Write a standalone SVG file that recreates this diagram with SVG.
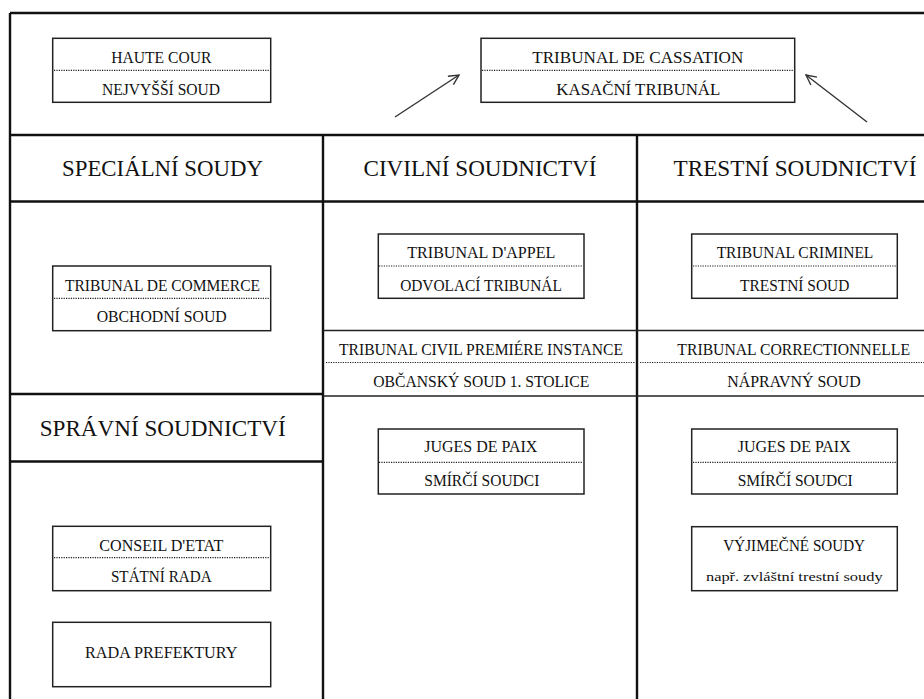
<svg xmlns="http://www.w3.org/2000/svg" width="924" height="699" viewBox="0 0 924 699">
<style>
text{fill:#111;text-anchor:middle}
.s{font-size:16px}
.xs{font-size:13px}
.h{font-size:23px}
.box{fill:#fff;stroke:#222;stroke-width:1.5}
.dot{stroke:#222;stroke-width:1.2;stroke-dasharray:1.2 1.2;fill:none}
.thick{stroke:#111;stroke-width:2.4;fill:none}
.thin{stroke:#222;stroke-width:1.4;fill:none}
.arr{stroke:#333;stroke-width:1.4;fill:none}
</style>
<defs>
<marker id="ah" viewBox="0 0 12 12" refX="11" refY="6" markerWidth="12" markerHeight="12" markerUnits="userSpaceOnUse" orient="auto">
<path d="M1,1 L11,6 L1,11" fill="none" stroke="#333" stroke-width="1.4"/>
</marker>
</defs>
<rect width="924" height="699" fill="#fff"/>
<g id="grid">
<line class="thick" x1="10" y1="13" x2="924" y2="13"/>
<line class="thick" x1="10" y1="13" x2="10" y2="699"/>
<line class="thick" x1="10" y1="135" x2="924" y2="135"/>
<line class="thick" x1="10" y1="201.5" x2="924" y2="201.5"/>
<line class="thick" x1="323" y1="135" x2="323" y2="699"/>
<line class="thick" x1="637" y1="135" x2="637" y2="699"/>
<line class="thick" x1="10" y1="394" x2="323" y2="394"/>
<line class="thick" x1="10" y1="461.5" x2="323" y2="461.5"/>
<line class="thin" x1="323" y1="330.5" x2="924" y2="330.5"/>
<line class="thin" x1="323" y1="396" x2="924" y2="396"/>
<line class="dot" x1="326" y1="362.5" x2="635" y2="362.5"/>
<line class="dot" x1="640" y1="362.5" x2="924" y2="362.5"/>
</g>
<g font-family="'Liberation Serif', 'DejaVu Serif', serif">
<g id="hdr-special"><text class="h" x="162.5" y="176" textLength="201" lengthAdjust="spacingAndGlyphs">SPECIÁLNÍ SOUDY</text></g>
<g id="hdr-civil"><text class="h" x="480" y="176" textLength="233" lengthAdjust="spacingAndGlyphs">CIVILNÍ SOUDNICTVÍ</text></g>
<g id="hdr-trestni"><text class="h" x="795" y="176" textLength="243" lengthAdjust="spacingAndGlyphs">TRESTNÍ SOUDNICTVÍ</text></g>
<g id="hdr-spravni"><text class="h" x="162.7" y="436" textLength="246" lengthAdjust="spacingAndGlyphs">SPRÁVNÍ SOUDNICTVÍ</text></g>
<g id="haute-cour">
<rect class="box" x="52.7" y="38.3" width="218" height="64"/>
<line class="dot" x1="54" y1="70.3" x2="270" y2="70.3"/>
<text class="s" x="161.3" y="63" textLength="100" lengthAdjust="spacingAndGlyphs">HAUTE COUR</text>
<text class="s" x="161" y="95" textLength="118" lengthAdjust="spacingAndGlyphs">NEJVYŠŠÍ SOUD</text>
</g>
<g id="cassation">
<rect class="box" x="481" y="38.3" width="313.7" height="64"/>
<line class="dot" x1="482" y1="70.3" x2="793" y2="70.3"/>
<text class="s" x="637.8" y="63" textLength="211" lengthAdjust="spacingAndGlyphs">TRIBUNAL DE CASSATION</text>
<text class="s" x="638.3" y="95" textLength="164" lengthAdjust="spacingAndGlyphs">KASAČNÍ TRIBUNÁL</text>
</g>
<g id="commerce">
<rect class="box" x="52.7" y="266" width="218" height="64.7"/>
<line class="dot" x1="54" y1="298.3" x2="270" y2="298.3"/>
<text class="s" x="162.5" y="291" textLength="195" lengthAdjust="spacingAndGlyphs">TRIBUNAL DE COMMERCE</text>
<text class="s" x="161.7" y="322" textLength="130" lengthAdjust="spacingAndGlyphs">OBCHODNÍ SOUD</text>
</g>
<g id="appel">
<rect class="box" x="378.3" y="234" width="205.7" height="64.3"/>
<line class="dot" x1="379" y1="266" x2="583" y2="266"/>
<text class="s" x="481.3" y="258" textLength="148" lengthAdjust="spacingAndGlyphs">TRIBUNAL D'APPEL</text>
<text class="s" x="481" y="291" textLength="161.7" lengthAdjust="spacingAndGlyphs">ODVOLACÍ TRIBUNÁL</text>
</g>
<g id="criminel">
<rect class="box" x="691.7" y="234" width="205.6" height="64.3"/>
<line class="dot" x1="693" y1="266" x2="896" y2="266"/>
<text class="s" x="795" y="258" textLength="156.7" lengthAdjust="spacingAndGlyphs">TRIBUNAL CRIMINEL</text>
<text class="s" x="794.7" y="291" textLength="109.3" lengthAdjust="spacingAndGlyphs">TRESTNÍ SOUD</text>
</g>
<g id="civil-premiere">
<text class="s" x="481" y="355" textLength="284" lengthAdjust="spacingAndGlyphs">TRIBUNAL CIVIL PREMIÉRE INSTANCE</text>
<text class="s" x="481.3" y="387" textLength="216" lengthAdjust="spacingAndGlyphs">OBČANSKÝ SOUD 1. STOLICE</text>
</g>
<g id="correctionnelle">
<text class="s" x="793.7" y="355" textLength="232.7" lengthAdjust="spacingAndGlyphs">TRIBUNAL CORRECTIONNELLE</text>
<text class="s" x="794" y="387" textLength="133.3" lengthAdjust="spacingAndGlyphs">NÁPRAVNÝ SOUD</text>
</g>
<g id="juges-civil">
<rect class="box" x="378.3" y="429" width="205.7" height="65"/>
<line class="dot" x1="379" y1="462.3" x2="583" y2="462.3"/>
<text class="s" x="480.8" y="452" textLength="113" lengthAdjust="spacingAndGlyphs">JUGES DE PAIX</text>
<text class="s" x="481.8" y="486" textLength="115" lengthAdjust="spacingAndGlyphs">SMÍRČÍ SOUDCI</text>
</g>
<g id="juges-trestni">
<rect class="box" x="691.7" y="429" width="205.6" height="65"/>
<line class="dot" x1="693" y1="462.3" x2="896" y2="462.3"/>
<text class="s" x="794.2" y="452" textLength="113" lengthAdjust="spacingAndGlyphs">JUGES DE PAIX</text>
<text class="s" x="795.2" y="486" textLength="115" lengthAdjust="spacingAndGlyphs">SMÍRČÍ SOUDCI</text>
</g>
<g id="vyjimecne">
<rect class="box" x="691.7" y="526.7" width="205.6" height="64"/>
<text class="s" x="794.2" y="551" textLength="141.7" lengthAdjust="spacingAndGlyphs">VÝJIMEČNÉ SOUDY</text>
<text class="xs" x="794.3" y="581" textLength="176.7" lengthAdjust="spacingAndGlyphs">např. zvláštní trestní soudy</text>
</g>
<g id="conseil">
<rect class="box" x="52.7" y="526.3" width="218" height="64.4"/>
<line class="dot" x1="54" y1="557.7" x2="270" y2="557.7"/>
<text class="s" x="161.3" y="551" textLength="124" lengthAdjust="spacingAndGlyphs">CONSEIL D'ETAT</text>
<text class="s" x="161.3" y="582" textLength="100.7" lengthAdjust="spacingAndGlyphs">STÁTNÍ RADA</text>
</g>
<g id="prefektury">
<rect class="box" x="52.7" y="622.3" width="218" height="64.4"/>
<text class="s" x="161.2" y="658" textLength="152.3" lengthAdjust="spacingAndGlyphs">RADA PREFEKTURY</text>
</g>
</g>
<g id="connectors">
<line class="arr" x1="395" y1="117" x2="459" y2="75" marker-end="url(#ah)"/>
<line class="arr" x1="867" y1="122" x2="806" y2="75" marker-end="url(#ah)"/>
</g>
</svg>
